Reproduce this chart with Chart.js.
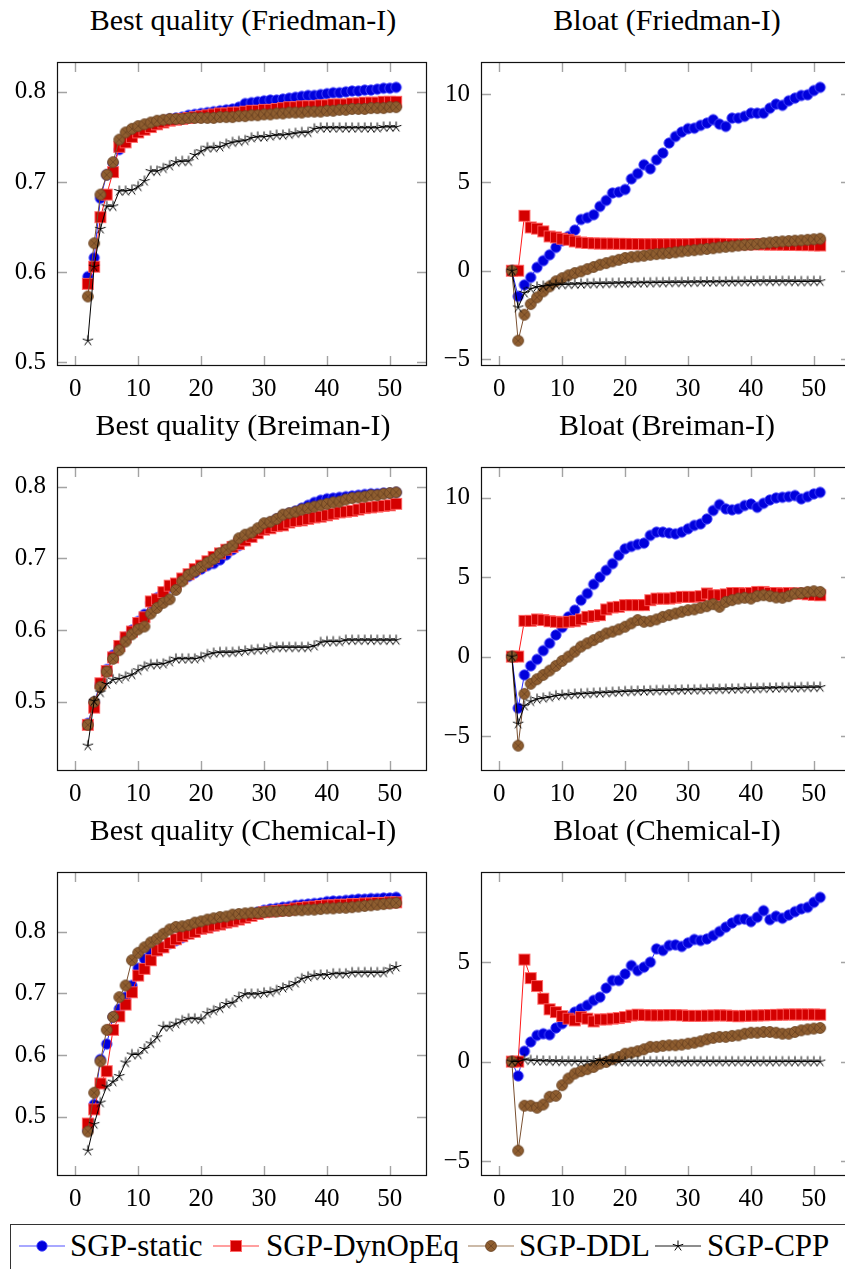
<!DOCTYPE html>
<html>
<head>
<meta charset="utf-8">
<script src="https://cdn.jsdelivr.net/npm/chart.js@4.4.1/dist/chart.umd.min.js"></script>
<style>
html,body{margin:0;padding:0;background:#fff;}
body{width:845px;height:1269px;overflow:hidden;position:relative;font-family:"Liberation Serif","Times New Roman",serif;color:#000;}
.title{position:absolute;font-size:30px;line-height:30px;white-space:nowrap;transform:translateX(-50%);}
canvas.ch{position:absolute;}
#legend{position:absolute;left:10px;top:1224px;width:900px;height:80px;border:1px solid #333;box-sizing:border-box;}
.lgIcon{position:absolute;}
.lgText{position:absolute;font-size:31px;line-height:31px;white-space:nowrap;}
</style>
</head>
<body>
<div id="legend"></div>
<script>
// ---------- data ----------
const iterations = [2,3,4,5,6,7,8,9,10,11,12,13,14,15,16,17,18,19,20,21,22,23,24,25,26,27,28,29,30,31,32,33,34,35,36,37,38,39,40,41,42,43,44,45,46,47,48,49,50,51];
const seriesNames = ['SGP-static','SGP-DynOpEq','SGP-DDL','SGP-CPP'];
const panelTitles = ['Best quality (Friedman-I)','Bloat (Friedman-I)','Best quality (Breiman-I)','Bloat (Breiman-I)','Best quality (Chemical-I)','Bloat (Chemical-I)'];
const xTickValues = [0,10,20,30,40,50];
const qualityTicks = [0.5,0.6,0.7,0.8];
const bloatTicks = [-5,0,5,10];
const bloatTicksChem = [-5,0,5];

// Friedman-I quality
const fq_static = [0.595,0.616,0.682,0.708,0.721,0.736,0.745,0.752,0.757,0.761,0.764,0.766,0.768,0.770,0.771,0.772,0.774,0.775,0.776,0.777,0.778,0.779,0.780,0.781,0.783,0.787,0.788,0.789,0.790,0.791,0.791,0.792,0.793,0.794,0.795,0.796,0.796,0.797,0.798,0.799,0.799,0.800,0.801,0.801,0.802,0.802,0.803,0.804,0.804,0.805];
const fq_dyn = [0.587,0.606,0.661,0.686,0.711,0.739,0.744,0.750,0.755,0.758,0.761,0.764,0.766,0.768,0.769,0.770,0.771,0.772,0.773,0.774,0.775,0.776,0.776,0.777,0.777,0.778,0.779,0.779,0.780,0.780,0.781,0.782,0.783,0.783,0.784,0.784,0.784,0.785,0.785,0.786,0.786,0.786,0.787,0.787,0.788,0.788,0.788,0.789,0.789,0.789];
const fq_ddl = [0.573,0.632,0.686,0.708,0.722,0.747,0.755,0.759,0.762,0.764,0.766,0.768,0.769,0.770,0.770,0.770,0.771,0.771,0.771,0.771,0.771,0.772,0.772,0.772,0.773,0.773,0.774,0.774,0.775,0.775,0.776,0.776,0.777,0.777,0.777,0.778,0.778,0.778,0.779,0.779,0.780,0.780,0.781,0.781,0.781,0.782,0.782,0.782,0.783,0.783];
const fq_cpp = [0.524,0.606,0.648,0.673,0.673,0.690,0.690,0.691,0.695,0.701,0.712,0.712,0.715,0.718,0.722,0.723,0.723,0.730,0.734,0.738,0.738,0.739,0.742,0.744,0.745,0.746,0.749,0.750,0.750,0.751,0.752,0.752,0.753,0.754,0.755,0.755,0.759,0.760,0.760,0.760,0.760,0.760,0.760,0.760,0.760,0.760,0.760,0.761,0.761,0.761];

// Friedman-I bloat
const fb_static = [0,-1.45,-0.8,-0.38,0.19,0.57,0.9,1.32,1.7,1.94,2.3,2.9,3.0,3.17,3.64,3.98,4.4,4.45,4.6,5.2,5.5,6.0,5.77,6.28,6.66,7.23,7.6,7.85,8.04,8.07,8.23,8.36,8.55,8.3,8.17,8.64,8.64,8.74,8.92,8.92,8.92,9.2,9.43,9.36,9.62,9.77,9.92,9.96,10.2,10.38];
const fb_dyn = [0,0,3.11,2.45,2.38,2.23,1.94,1.89,1.81,1.75,1.66,1.6,1.57,1.55,1.54,1.53,1.53,1.52,1.52,1.51,1.51,1.5,1.5,1.5,1.5,1.5,1.5,1.5,1.5,1.51,1.52,1.52,1.52,1.52,1.51,1.5,1.5,1.5,1.5,1.5,1.49,1.48,1.48,1.47,1.46,1.46,1.45,1.45,1.44,1.43];
const fb_ddl = [0,-3.96,-2.49,-1.89,-1.51,-1.17,-0.89,-0.6,-0.42,-0.26,-0.13,-0.04,0.09,0.21,0.34,0.43,0.53,0.62,0.72,0.77,0.81,0.85,0.9,0.94,0.97,1.0,1.04,1.09,1.13,1.16,1.2,1.23,1.27,1.32,1.35,1.38,1.42,1.45,1.47,1.51,1.56,1.6,1.63,1.66,1.68,1.7,1.72,1.75,1.78,1.81];
const fb_cpp = [0,-2.08,-1.26,-1.02,-0.92,-0.87,-0.83,-0.79,-0.78,-0.77,-0.76,-0.75,-0.74,-0.73,-0.72,-0.72,-0.71,-0.7,-0.7,-0.69,-0.69,-0.68,-0.68,-0.67,-0.67,-0.66,-0.66,-0.66,-0.65,-0.65,-0.64,-0.64,-0.64,-0.63,-0.63,-0.62,-0.62,-0.62,-0.61,-0.6,-0.6,-0.6,-0.6,-0.6,-0.6,-0.61,-0.61,-0.61,-0.6,-0.6];

// Breiman-I quality
const bq_static = [0.470,0.500,0.525,0.545,0.565,0.577,0.590,0.600,0.612,0.622,0.638,0.645,0.652,0.660,0.663,0.670,0.675,0.680,0.685,0.690,0.693,0.698,0.705,0.712,0.718,0.725,0.730,0.738,0.746,0.750,0.755,0.760,0.763,0.766,0.770,0.774,0.778,0.781,0.783,0.784,0.785,0.786,0.787,0.788,0.789,0.790,0.790,0.791,0.791,0.792];
const bq_dyn = [0.468,0.492,0.526,0.543,0.562,0.578,0.590,0.598,0.610,0.618,0.640,0.643,0.653,0.662,0.665,0.672,0.678,0.685,0.690,0.696,0.702,0.707,0.712,0.716,0.720,0.725,0.730,0.735,0.740,0.742,0.745,0.746,0.750,0.752,0.753,0.755,0.757,0.758,0.760,0.762,0.764,0.765,0.766,0.768,0.770,0.771,0.772,0.773,0.774,0.776];
const bq_ddl = [0.468,0.500,0.521,0.542,0.560,0.572,0.584,0.594,0.601,0.605,0.623,0.631,0.638,0.643,0.656,0.668,0.677,0.682,0.688,0.694,0.699,0.707,0.712,0.718,0.728,0.733,0.736,0.742,0.749,0.751,0.755,0.761,0.763,0.765,0.768,0.770,0.772,0.774,0.776,0.778,0.779,0.782,0.784,0.785,0.786,0.788,0.788,0.790,0.791,0.792];
const bq_cpp = [0.439,0.501,0.513,0.525,0.531,0.532,0.535,0.538,0.544,0.549,0.552,0.552,0.553,0.556,0.560,0.560,0.560,0.560,0.562,0.566,0.568,0.569,0.569,0.569,0.570,0.571,0.572,0.573,0.573,0.575,0.576,0.576,0.576,0.576,0.576,0.576,0.578,0.583,0.584,0.584,0.584,0.586,0.586,0.586,0.586,0.586,0.586,0.586,0.586,0.586];

// Breiman-I bloat
const bb_static = [0,-3.24,-1.15,-0.58,-0.17,0.38,0.84,1.36,1.84,2.5,2.92,3.55,3.97,4.55,5.0,5.43,5.85,6.37,6.78,6.93,7.06,7.14,7.62,7.83,7.83,7.77,7.72,7.83,8.04,8.25,8.35,8.66,9.19,9.56,9.29,9.23,9.29,9.5,9.6,9.39,9.64,9.85,9.98,10.02,10.06,10.13,9.92,10.06,10.23,10.33];
const bb_dyn = [0,0,2.25,2.25,2.34,2.3,2.23,2.19,2.15,2.19,2.23,2.34,2.5,2.55,2.61,2.97,3.09,3.13,3.24,3.24,3.24,3.24,3.55,3.65,3.65,3.65,3.7,3.76,3.76,3.76,3.8,3.97,3.86,3.86,3.92,4.0,4.0,3.97,4.0,4.07,4.07,4.0,4.0,3.97,4.0,3.97,3.97,3.92,3.88,3.86];
const bb_ddl = [0,-5.6,-2.34,-1.71,-1.42,-1.15,-0.88,-0.58,-0.27,0,0.31,0.63,0.84,1.04,1.25,1.46,1.57,1.71,1.88,2.09,2.3,2.19,2.23,2.34,2.5,2.61,2.71,2.82,2.92,2.97,3.07,3.17,3.3,3.13,3.44,3.55,3.65,3.7,3.65,3.8,3.86,3.8,3.72,3.7,3.8,3.97,4.0,4.07,4.11,4.07];
const bb_cpp = [0,-4.22,-3.09,-2.82,-2.67,-2.61,-2.55,-2.46,-2.42,-2.4,-2.36,-2.34,-2.32,-2.3,-2.28,-2.26,-2.24,-2.22,-2.19,-2.18,-2.17,-2.16,-2.15,-2.13,-2.13,-2.12,-2.11,-2.1,-2.09,-2.09,-2.08,-2.07,-2.06,-2.05,-2.05,-2.04,-2.03,-2.02,-2.0,-2.0,-1.99,-1.98,-1.97,-1.96,-1.96,-1.95,-1.94,-1.93,-1.93,-1.92];

// Chemical-I quality
const cq_static = [0.478,0.520,0.593,0.618,0.662,0.675,0.694,0.713,0.741,0.756,0.766,0.770,0.775,0.781,0.786,0.791,0.797,0.800,0.805,0.808,0.810,0.813,0.815,0.818,0.821,0.825,0.829,0.832,0.835,0.837,0.838,0.840,0.841,0.843,0.844,0.845,0.846,0.847,0.849,0.850,0.850,0.851,0.852,0.853,0.853,0.854,0.854,0.855,0.855,0.856];
const cq_dyn = [0.489,0.512,0.554,0.574,0.641,0.663,0.682,0.702,0.729,0.740,0.754,0.770,0.775,0.782,0.788,0.793,0.797,0.800,0.805,0.807,0.810,0.812,0.815,0.817,0.820,0.823,0.826,0.829,0.832,0.833,0.834,0.835,0.836,0.838,0.839,0.840,0.841,0.842,0.843,0.843,0.844,0.844,0.845,0.845,0.846,0.846,0.847,0.847,0.848,0.848];
const cq_ddl = [0.476,0.539,0.590,0.641,0.662,0.694,0.713,0.754,0.766,0.775,0.783,0.789,0.797,0.804,0.808,0.809,0.811,0.815,0.817,0.820,0.822,0.824,0.825,0.828,0.829,0.830,0.831,0.831,0.832,0.833,0.833,0.834,0.834,0.835,0.835,0.836,0.836,0.837,0.838,0.838,0.839,0.839,0.840,0.841,0.842,0.843,0.844,0.845,0.846,0.847];
const cq_cpp = [0.445,0.488,0.523,0.549,0.557,0.566,0.588,0.601,0.601,0.610,0.619,0.629,0.646,0.646,0.651,0.656,0.659,0.659,0.658,0.668,0.672,0.676,0.683,0.685,0.694,0.699,0.699,0.699,0.701,0.702,0.705,0.709,0.712,0.717,0.724,0.727,0.729,0.730,0.730,0.732,0.732,0.732,0.734,0.734,0.734,0.734,0.734,0.734,0.739,0.743];

// Chemical-I bloat
const cb_static = [0,-0.72,0.52,0.99,1.32,1.4,1.35,1.69,1.91,2.24,2.49,2.66,2.83,3.08,3.24,3.7,4.08,4.08,4.41,4.83,4.58,4.75,5.0,5.67,5.59,5.84,5.87,5.79,5.97,6.14,6.09,6.17,6.34,6.54,6.76,6.97,7.14,7.17,7.04,7.26,7.59,7.14,7.31,7.21,7.37,7.54,7.68,7.76,8.01,8.26];
const cb_dyn = [0,0,5.13,4.2,3.8,3.16,2.63,2.49,2.29,2.16,2.07,2.24,2.16,2.02,2.12,2.12,2.16,2.19,2.24,2.32,2.36,2.34,2.33,2.33,2.33,2.34,2.34,2.33,2.3,2.3,2.3,2.31,2.32,2.33,2.32,2.3,2.28,2.3,2.31,2.32,2.33,2.34,2.35,2.36,2.37,2.37,2.37,2.37,2.37,2.36];
const cb_ddl = [0,-4.48,-2.22,-2.22,-2.32,-2.16,-1.77,-1.72,-1.19,-0.85,-0.6,-0.48,-0.38,-0.27,-0.1,-0.02,0.12,0.23,0.4,0.45,0.52,0.62,0.74,0.74,0.79,0.82,0.82,0.85,0.9,0.95,1.02,1.12,1.19,1.24,1.24,1.29,1.32,1.4,1.45,1.45,1.49,1.49,1.45,1.4,1.4,1.49,1.57,1.62,1.66,1.69];
const cb_cpp = [0,0,0.1,0.06,0.04,0.03,0.02,0.02,0.01,0.01,0.01,0,0,0.02,0.08,0.03,0.02,0.01,0,0,0,0,0,0,0,-0.01,-0.01,-0.01,0,0,0,0,0,0,0,0,0,0,0,0,0,0,0,0,0,0,0,0,0,0];

// ---------- markers ----------
function makeMarker(kind){
  const c=document.createElement('canvas'); c.width=16; c.height=16;
  const g=c.getContext('2d'); const m=8;
  if(kind==='circle'){
    g.beginPath(); g.arc(m,m,5.2,0,Math.PI*2);
    g.fillStyle='#0000dc'; g.fill();
    g.lineWidth=1; g.strokeStyle='rgba(80,80,255,0.85)'; g.stroke();
  } else if(kind==='square'){
    g.fillStyle='#d40000'; g.fillRect(m-5,m-5,10,10);
    g.lineWidth=1; g.strokeStyle='rgba(255,90,90,0.9)'; g.strokeRect(m-5.5,m-5.5,11,11);
  } else if(kind==='otimes'){
    g.beginPath(); g.arc(m,m,5.4,0,Math.PI*2);
    g.fillStyle='#8f5e30'; g.fill();
    g.lineWidth=0.9; g.strokeStyle='#6b4322'; g.stroke();
    const r=5.4*0.7071;
    g.beginPath(); g.moveTo(m-r,m-r); g.lineTo(m+r,m+r); g.moveTo(m-r,m+r); g.lineTo(m+r,m-r);
    g.lineWidth=0.8; g.strokeStyle='#6b4322'; g.stroke();
  } else {
    g.beginPath();
    for(let k=0;k<5;k++){
      const a=(-90+72*k)*Math.PI/180;
      g.moveTo(m,m); g.lineTo(m+5.5*Math.cos(a),m+5.5*Math.sin(a));
    }
    g.lineWidth=1; g.strokeStyle='#000'; g.stroke();
  }
  return c;
}
const seriesStyles = [
  {line:'#2a2aff', marker:makeMarker('circle'), legendLine:'rgba(60,60,255,0.6)', order:4},
  {line:'#ff1a1a', marker:makeMarker('square'), legendLine:'rgba(255,40,40,0.6)', order:3},
  {line:'#7a5030', marker:makeMarker('otimes'), legendLine:'rgba(140,100,60,0.6)', order:2},
  {line:'#000000', marker:makeMarker('star'), legendLine:'rgba(0,0,0,0.6)', order:1}
];

// ---------- plugin: pgfplots-like frame + inward ticks ----------
const frameTicks = {
  id:'frameTicks',
  beforeDatasetsDraw(chart){
    const {ctx, chartArea:a, scales:{x,y}} = chart;
    const L=10;
    ctx.save();
    ctx.strokeStyle='#a3a3a3'; ctx.lineWidth=1.4;
    ctx.beginPath();
    x.ticks.forEach(t=>{const p=Math.round(x.getPixelForValue(t.value))+0.5;
      ctx.moveTo(p,a.bottom); ctx.lineTo(p,a.bottom-L); ctx.moveTo(p,a.top); ctx.lineTo(p,a.top+L);});
    y.ticks.forEach(t=>{const p=Math.round(y.getPixelForValue(t.value))+0.5;
      ctx.moveTo(a.left,p); ctx.lineTo(a.left+L,p); ctx.moveTo(a.right,p); ctx.lineTo(a.right-L,p);});
    ctx.stroke();
    ctx.restore();
  },
  afterDraw(chart){
    const {ctx, chartArea:a} = chart;
    ctx.save();
    ctx.strokeStyle='#111'; ctx.lineWidth=1.2;
    ctx.strokeRect(Math.round(a.left)+0.5, Math.round(a.top)+0.5, Math.round(a.right-a.left)-1, Math.round(a.bottom-a.top)-1);
    ctx.restore();
  }
};

function fmt(v){
  if(v<0) return '\u2212'+String(Math.abs(v));
  return String(Math.round(v*10)/10);
}

const panels = [
  {title:panelTitles[0], values:[fq_static,fq_dyn,fq_ddl,fq_cpp], yTicks:qualityTicks, col:0, row:0},
  {title:panelTitles[1], values:[fb_static,fb_dyn,fb_ddl,fb_cpp], yTicks:bloatTicks, col:1, row:0},
  {title:panelTitles[2], values:[bq_static,bq_dyn,bq_ddl,bq_cpp], yTicks:qualityTicks, col:0, row:1},
  {title:panelTitles[3], values:[bb_static,bb_dyn,bb_ddl,bb_cpp], yTicks:bloatTicks, col:1, row:1},
  {title:panelTitles[4], values:[cq_static,cq_dyn,cq_ddl,cq_cpp], yTicks:qualityTicks, col:0, row:2},
  {title:panelTitles[5], values:[cb_static,cb_dyn,cb_ddl,cb_cpp], yTicks:bloatTicksChem, col:1, row:2}
];

const PLOT_LEFT=[57,481], PLOT_TOP=[62,467,872], PLOT_W=372, PLOT_H=304;
const YW=56, XH=45, PADT=30, PADR=4;
const FONT='"Liberation Serif","Times New Roman",serif';

panels.forEach(p=>{
  const left=PLOT_LEFT[p.col], top=PLOT_TOP[p.row];
  // title
  const t=document.createElement('div'); t.className='title'; t.textContent=p.title;
  t.style.left=(left+PLOT_W/2)+'px'; t.style.top=(top-57)+'px';
  document.body.appendChild(t);
  // canvas
  const cv=document.createElement('canvas'); cv.className='ch';
  cv.width=YW+PLOT_W+PADR; cv.height=PADT+PLOT_H+XH;
  cv.style.left=(left-YW)+'px'; cv.style.top=(top-PADT)+'px';
  document.body.appendChild(cv);
  // limits (enlarged by 10% like pgfplots)
  const all=[].concat(...p.values);
  const ymin=Math.min(...all), ymax=Math.max(...all), yr=ymax-ymin;
  const xmin=Math.min(...iterations), xmax=Math.max(...iterations), xr=xmax-xmin;
  const datasets=p.values.map((vals,i)=>({
    label:seriesNames[i],
    data:iterations.map((x,k)=>({x:x,y:vals[k]})),
    borderColor:seriesStyles[i].line,
    backgroundColor:seriesStyles[i].line,
    borderWidth:1,
    pointStyle:seriesStyles[i].marker,
    pointRadius:5,
    tension:0,
    order:seriesStyles[i].order
  }));
  new Chart(cv,{
    type:'line',
    data:{datasets},
    options:{
      responsive:false, animation:false, events:[],
      layout:{padding:{top:PADT,right:PADR,left:0,bottom:0}},
      plugins:{legend:{display:false},tooltip:{enabled:false},title:{display:false}},
      scales:{
        x:{type:'linear', min:xmin-0.1*xr, max:xmax+0.1*xr,
           grid:{display:false,drawTicks:false}, border:{display:false},
           afterBuildTicks:s=>{s.ticks=xTickValues.map(v=>({value:v}));},
           afterFit:s=>{s.height=XH;},
           ticks:{padding:8,color:'#000',font:{family:FONT,size:25},maxRotation:0,autoSkip:false,callback:v=>String(v)}},
        y:{type:'linear', min:ymin-0.1*yr, max:ymax+0.1*yr,
           grid:{display:false,drawTicks:false}, border:{display:false},
           afterBuildTicks:s=>{s.ticks=p.yTicks.map(v=>({value:v}));},
           afterFit:s=>{s.width=YW;},
           ticks:{padding:11,color:'#000',font:{family:FONT,size:25},autoSkip:false,callback:v=>fmt(v)}}
      }
    },
    plugins:[frameTicks]
  });
});

// ---------- legend ----------
const legend=document.getElementById('legend');
const iconX=[19,213,468,655], textX=[70,266,519,707];
seriesNames.forEach((name,i)=>{
  const c=document.createElement('canvas'); c.className='lgIcon';
  c.width=46; c.height=16;
  c.style.left=(iconX[i]-11)+'px'; c.style.top=(1246-8-1225)+'px';
  const g=c.getContext('2d');
  g.strokeStyle=seriesStyles[i].legendLine; g.lineWidth=1.6;
  g.beginPath(); g.moveTo(0,8); g.lineTo(46,8); g.stroke();
  g.drawImage(seriesStyles[i].marker,23-8,0);
  legend.appendChild(c);
  const s=document.createElement('span'); s.className='lgText'; s.textContent=name;
  s.style.left=(textX[i]-11)+'px'; s.style.top=(1256-26-1225)+'px';
  legend.appendChild(s);
});
</script>
</body>
</html>
